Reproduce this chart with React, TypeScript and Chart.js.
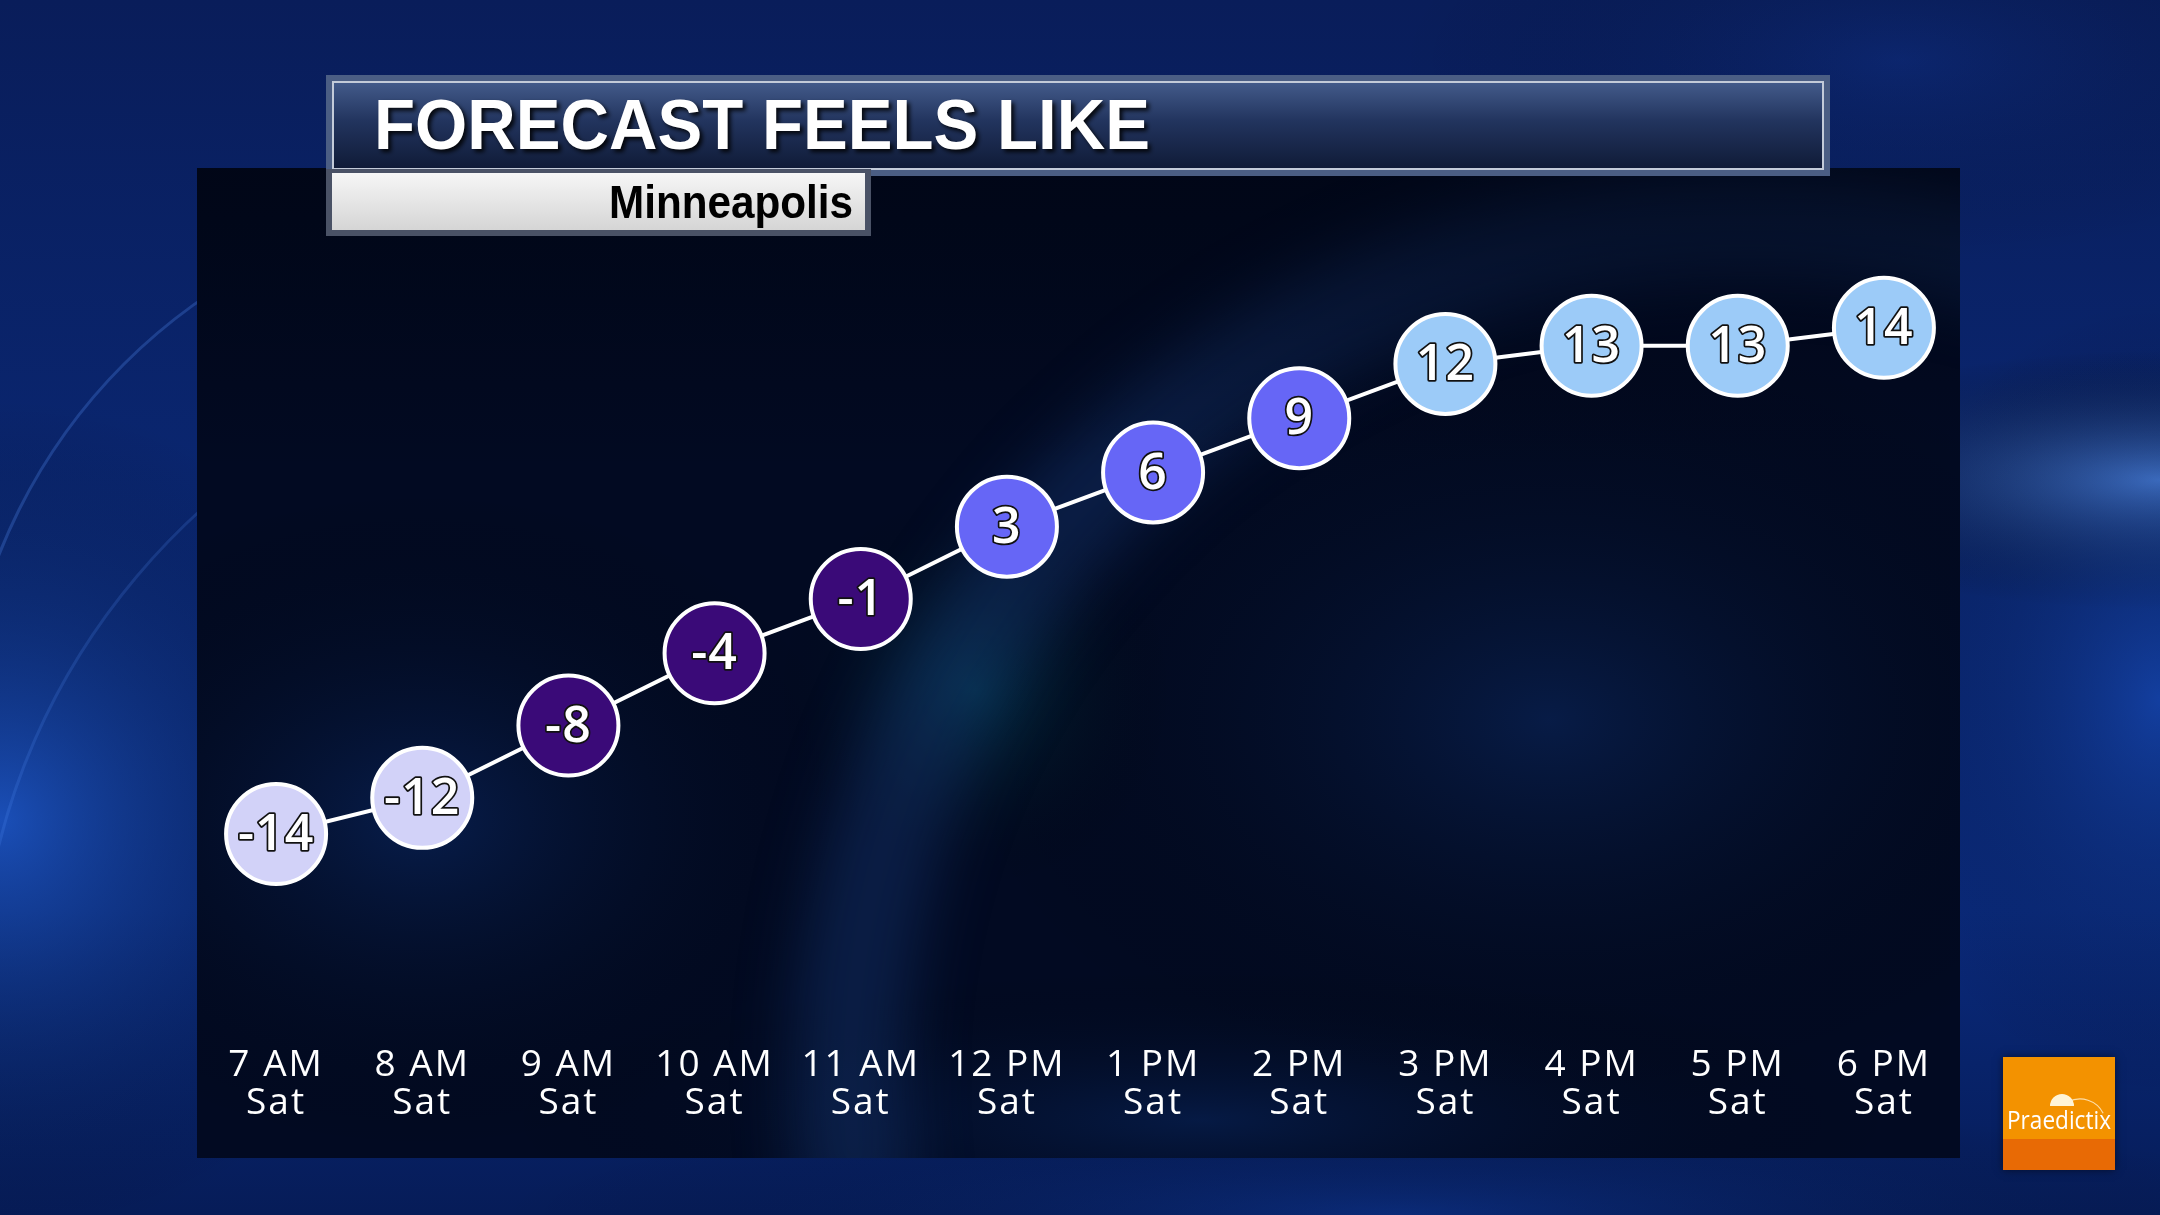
import React, { useEffect, useRef } from 'react';
import { Chart, registerables } from 'chart.js';

Chart.register(...registerables);

// ---- data ----
const hourLabels = ['7 AM', '8 AM', '9 AM', '10 AM', '11 AM', '12 PM', '1 PM', '2 PM', '3 PM', '4 PM', '5 PM', '6 PM'];
const dayLabels = ['Sat', 'Sat', 'Sat', 'Sat', 'Sat', 'Sat', 'Sat', 'Sat', 'Sat', 'Sat', 'Sat', 'Sat'];
const feelsLike = [-14, -12, -8, -4, -1, 3, 6, 9, 12, 13, 13, 14];
const pointColors = [
  '#d2d2f8', '#d2d2f8', '#3a0a78', '#3a0a78', '#3a0a78', '#6666f6',
  '#6666f6', '#6666f6', '#9ccbf8', '#9ccbf8', '#9ccbf8', '#9ccbf8',
];
const TITLE = 'FORECAST FEELS LIKE';
const SUBTITLE = 'Minneapolis';
const LOGO_TEXT = 'Praedictix';

const Y_MIN = -25.17;
const Y_MAX = 23.83;

function ellipseGlow(ctx: CanvasRenderingContext2D, cx: number, cy: number, rx: number, ry: number, color: string) {
  ctx.save();
  ctx.translate(cx, cy);
  ctx.scale(1, ry / rx);
  const g = ctx.createRadialGradient(0, 0, 0, 0, 0, rx);
  g.addColorStop(0, color);
  g.addColorStop(1, 'rgba(0,0,0,0)');
  ctx.fillStyle = g;
  ctx.beginPath();
  ctx.arc(0, 0, rx, 0, Math.PI * 2);
  ctx.fill();
  ctx.restore();
}

const backgroundPlugin = {
  id: 'tvBackground',
  beforeDraw(chart: any) {
    const ctx: CanvasRenderingContext2D = chart.ctx;
    const W = chart.width;
    const H = chart.height;
    ctx.save();
    // base gradient
    const g = ctx.createLinearGradient(0, 0, 0, H);
    g.addColorStop(0, '#091d5a');
    g.addColorStop(0.4, '#0a2670');
    g.addColorStop(0.75, '#0a2a7c');
    g.addColorStop(1, '#061c58');
    ctx.fillStyle = g;
    ctx.fillRect(0, 0, W, H);
    // glows
    ellipseGlow(ctx, 0, 820, 420, 420, 'rgba(40,110,235,0.55)');
    ellipseGlow(ctx, 2160, 480, 420, 130, 'rgba(90,150,245,0.75)');
    ellipseGlow(ctx, 2160, 700, 300, 400, 'rgba(30,90,210,0.45)');
    ellipseGlow(ctx, 1400, 1215, 900, 120, 'rgba(20,70,180,0.35)');
    ellipseGlow(ctx, 1900, 60, 500, 200, 'rgba(20,60,160,0.25)');
    // swirl lines
    ctx.lineWidth = 3;
    ctx.strokeStyle = 'rgba(90,150,255,0.25)';
    ctx.beginPath();
    ctx.ellipse(520, 760, 560, 560, 0, Math.PI * 1.05, Math.PI * 1.45);
    ctx.stroke();
    ctx.strokeStyle = 'rgba(90,150,255,0.18)';
    ctx.beginPath();
    ctx.ellipse(700, 1000, 720, 680, 0, Math.PI * 0.95, Math.PI * 1.3);
    ctx.stroke();

    // dark panel
    const px = 197, py = 168, pw = 1763, ph = 990;
    ctx.save();
    ctx.beginPath();
    ctx.rect(px, py, pw, ph);
    ctx.clip();
    ctx.fillStyle = '#020a22';
    ctx.fillRect(px, py, pw, ph);
    ellipseGlow(ctx, 420, 820, 450, 330, 'rgba(12,45,110,0.55)');
    ellipseGlow(ctx, 1550, 720, 600, 400, 'rgba(12,42,100,0.55)');
    ellipseGlow(ctx, 975, 690, 200, 200, 'rgba(0,95,105,0.35)');
    ellipseGlow(ctx, 1200, 1120, 700, 150, 'rgba(10,45,110,0.45)');
    // swoosh band
    ctx.filter = 'blur(30px)';
    ctx.strokeStyle = 'rgba(25,65,135,0.35)';
    ctx.lineWidth = 110;
    ctx.beginPath();
    ctx.ellipse(1750, 1080, 900, 860, 0, Math.PI * 0.95, Math.PI * 1.9);
    ctx.stroke();
    ctx.filter = 'none';
    // subtle top darkness
    const tg = ctx.createLinearGradient(0, py, 0, py + 300);
    tg.addColorStop(0, 'rgba(0,4,16,0.6)');
    tg.addColorStop(1, 'rgba(0,4,16,0)');
    ctx.fillStyle = tg;
    ctx.fillRect(px, py, pw, 300);
    ctx.restore();

    // title bar
    ctx.fillStyle = '#4b5e84';
    ctx.fillRect(326, 75, 1504, 101);
    const tb = ctx.createLinearGradient(0, 81, 0, 170);
    tb.addColorStop(0, '#445c8c');
    tb.addColorStop(0.45, '#22345e');
    tb.addColorStop(1, '#0f1a36');
    ctx.fillStyle = tb;
    ctx.fillRect(332, 81, 1492, 89);
    ctx.strokeStyle = '#c3cbd9';
    ctx.lineWidth = 2;
    ctx.strokeRect(333, 82, 1490, 87);

    // subtitle box
    ctx.fillStyle = '#4a5266';
    ctx.fillRect(326, 169, 545, 67);
    const sb = ctx.createLinearGradient(0, 173, 0, 230);
    sb.addColorStop(0, '#f6f6f6');
    sb.addColorStop(1, '#d5d5d5');
    ctx.fillStyle = sb;
    ctx.fillRect(332, 173, 533, 57);

    // title text
    ctx.font = 'bold 70px "Liberation Sans", Arial, sans-serif';
    ctx.textAlign = 'left';
    ctx.textBaseline = 'alphabetic';
    ctx.shadowColor = 'rgba(0,0,0,0.85)';
    ctx.shadowOffsetX = 3;
    ctx.shadowOffsetY = 3;
    ctx.shadowBlur = 4;
    ctx.fillStyle = '#ffffff';
    ctx.fillText(TITLE, 374, 149, 776);
    ctx.shadowColor = 'rgba(0,0,0,0)';
    ctx.shadowOffsetX = 0;
    ctx.shadowOffsetY = 0;
    ctx.shadowBlur = 0;

    // subtitle text
    ctx.font = 'bold 46px "Liberation Sans", Arial, sans-serif';
    ctx.textAlign = 'right';
    ctx.fillStyle = '#000000';
    ctx.fillText(SUBTITLE, 853, 218, 244);
    ctx.restore();
    // spacing for the axis tick labels drawn next
    (ctx as any).letterSpacing = '2px';
  },
  afterDraw(chart: any) {
    const ctx: CanvasRenderingContext2D = chart.ctx;
    ctx.save();
    (ctx as any).letterSpacing = '0px';
    // logo
    ctx.shadowColor = 'rgba(0,0,0,0.5)';
    ctx.shadowBlur = 8;
    ctx.fillStyle = '#f39200';
    ctx.fillRect(2003, 1057, 112, 113);
    ctx.shadowBlur = 0;
    ctx.shadowColor = 'rgba(0,0,0,0)';
    ctx.fillStyle = '#e86a05';
    ctx.fillRect(2003, 1139, 112, 31);
    // umbrella
    ctx.fillStyle = '#fff4d6';
    ctx.beginPath();
    ctx.arc(2062, 1106, 12, Math.PI, 0);
    ctx.closePath();
    ctx.fill();
    ctx.strokeStyle = 'rgba(255,240,210,0.8)';
    ctx.lineWidth = 1.2;
    ctx.beginPath();
    ctx.arc(2080, 1125, 26, Math.PI * 1.35, Math.PI * 1.85);
    ctx.stroke();
    ctx.fillStyle = '#ffffff';
    ctx.font = '25px "Open Sans", "Noto Sans", sans-serif';
    ctx.textAlign = 'center';
    ctx.textBaseline = 'alphabetic';
    ctx.fillText(LOGO_TEXT, 2059, 1129, 104);
    ctx.restore();
  },
};

const valueLabelPlugin = {
  id: 'valueLabels',
  afterDatasetsDraw(chart: any) {
    const ctx: CanvasRenderingContext2D = chart.ctx;
    const meta = chart.getDatasetMeta(0);
    const values = chart.data.datasets[0].data;
    ctx.save();
    (ctx as any).letterSpacing = '1px';
    ctx.font = '600 50px "Open Sans", "Noto Sans", sans-serif';
    ctx.textAlign = 'center';
    ctx.textBaseline = 'middle';
    ctx.lineJoin = 'round';
    meta.data.forEach((pt: any, i: number) => {
      const text = String(values[i]);
      ctx.lineWidth = 3.5;
      ctx.strokeStyle = '#111111';
      ctx.strokeText(text, pt.x, pt.y + 2);
      ctx.fillStyle = '#ffffff';
      ctx.fillText(text, pt.x, pt.y + 2);
    });
    ctx.restore();
  },
};

export default function App() {
  const canvasRef = useRef<HTMLCanvasElement | null>(null);

  useEffect(() => {
    document.body.style.margin = '0';
    document.body.style.background = '#061c58';
    const canvas = canvasRef.current;
    if (!canvas) return;
    const chart = new Chart(canvas, {
      type: 'line',
      data: {
        labels: hourLabels.map((h, i) => [h, dayLabels[i]]),
        datasets: [
          {
            data: feelsLike,
            borderColor: '#ffffff',
            borderWidth: 4,
            pointRadius: 50,
            pointHoverRadius: 50,
            pointBackgroundColor: pointColors,
            pointBorderColor: '#ffffff',
            pointBorderWidth: 4,
            pointHoverBorderWidth: 4,
            tension: 0,
            clip: false,
          } as any,
        ],
      },
      options: {
        animation: false,
        responsive: false,
        devicePixelRatio: 1,
        events: [],
        layout: { padding: { left: 203, right: 203, top: 150, bottom: 83 } },
        plugins: {
          legend: { display: false },
          title: { display: false },
          tooltip: { enabled: false },
        },
        scales: {
          x: {
            offset: true,
            grid: { display: false, drawTicks: false },
            border: { display: false },
            ticks: {
              color: '#ffffff',
              padding: 10,
              maxRotation: 0,
              autoSkip: false,
              font: { family: '"Open Sans", "Noto Sans", sans-serif', size: 37, lineHeight: '38px' as any },
            },
          },
          y: {
            display: false,
            min: Y_MIN,
            max: Y_MAX,
          },
        },
      },
      plugins: [backgroundPlugin, valueLabelPlugin],
    });
    return () => chart.destroy();
  }, []);

  return (
    <div style={{ width: 2160, height: 1215 }}>
      <canvas ref={canvasRef} width={2160} height={1215} style={{ display: 'block', width: 2160, height: 1215 }} />
    </div>
  );
}
